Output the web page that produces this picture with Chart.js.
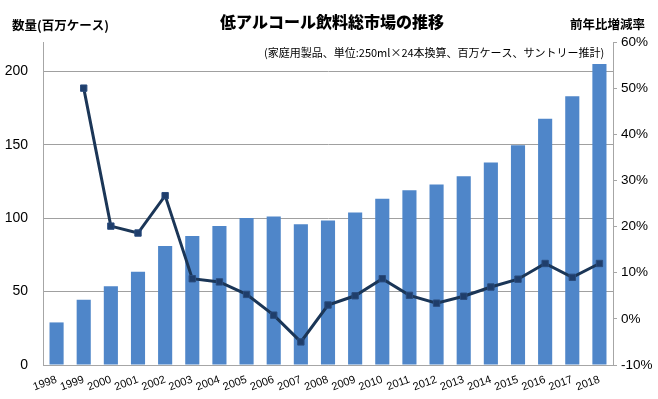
<!DOCTYPE html>
<html>
<head>
<meta charset="utf-8">
<script src="https://cdn.jsdelivr.net/npm/chart.js@4/dist/chart.umd.min.js"></script>
<style>
html,body{margin:0;padding:0;background:#fff;}
#wrap{width:658px;height:399px;position:relative;}
</style>
</head>
<body>
<div id="wrap"><canvas id="c" width="658" height="399"></canvas></div>
<script>
const categories = ['1998','1999','2000','2001','2002','2003','2004','2005','2006','2007','2008','2009','2010','2011','2012','2013','2014','2015','2016','2017','2018'];
const volume = [29, 44.4, 53.7, 63.5, 81, 87.8, 94.6, 100.2, 101.1, 95.9, 98.4, 103.9, 113.2, 119, 122.9, 128.6, 137.9, 149.7, 167.8, 183, 205];
const growth = [null, 50, 20.1, 18.6, 26.7, 8.7, 8.0, 5.3, 0.8, -5.0, 3.0, 5.0, 8.7, 5.1, 3.4, 4.9, 6.9, 8.6, 12.0, 9.0, 12.0];
const leftTicks = [0, 50, 100, 150, 200];
const rightTicks = [-10, 0, 10, 20, 30, 40, 50, 60];
const titleText = '低アルコール飲料総市場の推移';
const leftTitle = '数量(百万ケース)';
const rightTitle = '前年比増減率';
const noteText = '(家庭用製品、単位:250ml×24本換算、百万ケース、サントリー推計)';

const JP = '"Noto Sans CJK JP", "Noto Sans", sans-serif';
const NUM = '"Liberation Sans", Arial, sans-serif';

const textPlugin = {
  id: 'texts',
  afterDraw(chart) {
    const ctx = chart.ctx;
    ctx.save();
    ctx.fillStyle = '#000';
    ctx.textBaseline = 'middle';
    ctx.font = '900 16px ' + JP;
    ctx.textAlign = 'center';
    ctx.fillText(titleText, 332, 22, 236);
    ctx.font = 'bold 12.5px ' + JP;
    ctx.textAlign = 'left';
    ctx.fillText(leftTitle, 12, 25, 102);
    ctx.fillText(rightTitle, 570, 24, 81);
    ctx.font = '11px ' + JP;
    ctx.fillText(noteText, 264, 53, 342);
    ctx.restore();
  }
};

new Chart(document.getElementById('c'), {
  data: {
    labels: categories,
    datasets: [
      {
        type: 'line',
        data: growth,
        yAxisID: 'y1',
        borderColor: '#1B3657',
        borderWidth: 3,
        backgroundColor: '#1F3E6B',
        pointStyle: 'rect',
        pointRadius: 4.5,
        pointBorderColor: '#2A4C7E',
        pointBorderWidth: 1,
        pointBackgroundColor: '#1F3E6B',
        tension: 0,
        order: 1
      },
      {
        type: 'bar',
        data: volume,
        yAxisID: 'y',
        backgroundColor: '#4F86C9',
        borderWidth: 0,
        categoryPercentage: 1,
        barPercentage: 0.52,
        order: 2
      }
    ]
  },
  options: {
    responsive: false,
    animation: false,
    events: [],
    layout: { padding: { top: 42, left: 0, right: 0, bottom: 0 } },
    plugins: { legend: { display: false }, tooltip: { enabled: false }, title: { display: false } },
    scales: {
      x: {
        position: 'bottom',
        grid: { display: false, drawTicks: false },
        border: { display: true, color: '#A6A6A6', width: 1 },
        ticks: { color: '#000', font: { family: NUM, size: 11 }, minRotation: 20, maxRotation: 20, padding: 8, autoSkip: false },
        afterFit(s) { s.height = 34; }
      },
      y: {
        position: 'left',
        min: 0,
        max: 220,
        afterBuildTicks(axis) { axis.ticks = leftTicks.map(v => ({ value: v })); },
        grid: { color: '#A0A0A0', lineWidth: 1, drawTicks: false },
        border: { display: true, color: '#A6A6A6', width: 1 },
        ticks: { color: '#000', font: { family: NUM, size: 14 }, padding: 15 },
        afterFit(s) { s.width = 43; }
      },
      y1: {
        position: 'right',
        min: -10,
        max: 60,
        afterBuildTicks(axis) { axis.ticks = rightTicks.map(v => ({ value: v })); },
        grid: { drawOnChartArea: false, drawTicks: true, tickLength: 4, color: '#A6A6A6' },
        border: { display: true, color: '#A6A6A6', width: 1 },
        ticks: { color: '#000', font: { family: NUM, size: 13.5 }, padding: 4, callback: v => v + '%' },
        afterFit(s) { s.width = 45; }
      }
    }
  },
  plugins: [textPlugin]
});
</script>
</body>
</html>
